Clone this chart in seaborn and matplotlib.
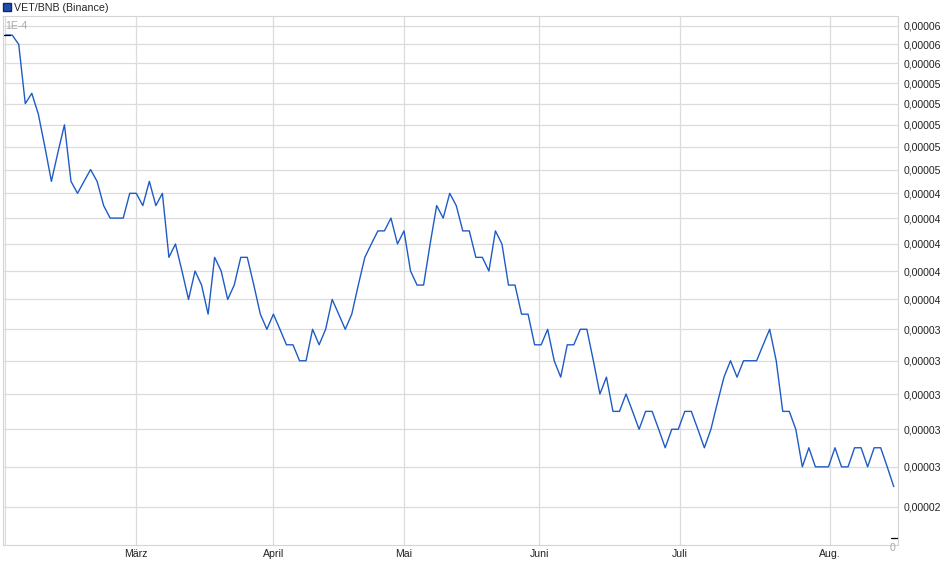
import math

import matplotlib
matplotlib.use("Agg")
import matplotlib.pyplot as plt
from matplotlib.patches import Patch
from matplotlib.ticker import FixedLocator, FuncFormatter, NullLocator
import numpy as np
import pandas as pd
import seaborn as sns

# VET/BNB closing prices, in units of 1e-6 BNB
price_micro = [
    63, 63, 62, 56, 57, 55, 52, 49, 51.5, 54,
    49, 48, 49, 50, 49, 47, 46, 46, 46, 48,
    48, 47, 49, 47, 48, 43, 44, 42, 40, 42,
    41, 39, 43, 42, 40, 41, 43, 43, 41, 39,
    38, 39, 38, 37, 37, 36, 36, 38, 37, 38,
    40, 39, 38, 39, 41, 43, 44, 45, 45, 46,
    44, 45, 42, 41, 41, 44, 47, 46, 48, 47,
    45, 45, 43, 43, 42, 45, 44, 41, 41, 39,
    39, 37, 37, 38, 36, 35, 37, 37, 38, 38,
    36, 34, 35, 33, 33, 34, 33, 32, 33, 33,
    32, 31, 32, 32, 33, 33, 32, 31, 32, 33.5,
    35, 36, 35, 36, 36, 36, 37, 38, 36, 33,
    33, 32, 30, 31, 30, 30, 30, 31, 30, 30,
    31, 31, 30, 31, 31, 30, 29,
]

# month labels and where they fall on the point index
month_labels = ["", "März", "April", "Mai", "Juni", "Juli", "Aug."]
month_pos = [-0.1, 20.0, 41.0, 61.0, 81.7, 103.2, 126.2]

# right-hand price grid (units of 1e-6)
grid_micro = list(range(28, 65, 2))

series_name = "VET/BNB (Binance)"
line_color = "#1f5bc6"
grid_color = "#dcdcdc"

df = pd.DataFrame({
    "idx": np.arange(len(price_micro)),
    "price": np.array(price_micro) * 1e-6,
})

sns.set_style("whitegrid")
plt.rcParams["font.family"] = ["Liberation Sans", "DejaVu Sans"]

fig = plt.figure(figsize=(9.4, 5.79), dpi=100)
ax = fig.add_axes([3 / 940, 34 / 579, 895 / 940, 529 / 579])

sns.lineplot(data=df, x="idx", y="price", ax=ax, color=line_color,
             linewidth=1.0, legend=False)

ax.set_yscale("log")
ax.set_ylim(26.23e-6, 65.1e-6)
ax.set_xlim(-0.41, 136.65)

ax.yaxis.tick_right()
ax.yaxis.set_major_locator(FixedLocator([v * 1e-6 for v in grid_micro]))
ax.yaxis.set_minor_locator(NullLocator())
ax.yaxis.set_major_formatter(FuncFormatter(
    lambda v, _: "0,%05d" % math.floor(v * 1e5 + 1e-6)))

ax.set_xticks(month_pos)
ax.set_xticklabels(month_labels)

ax.tick_params(axis="y", length=0, pad=4, labelsize=7.6, labelcolor="#222222")
ax.tick_params(axis="x", length=0, pad=3, labelsize=7.6, labelcolor="#222222")
ax.set_xlabel("")
ax.set_ylabel("")

ax.grid(True, color=grid_color, linewidth=0.9)
for s in ax.spines.values():
    s.set_color("#d4d4d4")
    s.set_linewidth(0.8)

# small markers at start price and bottom right, like the original
ax.plot([0, 0.008], [df["price"].iloc[0]] * 2, color="black", lw=0.9,
        transform=ax.get_yaxis_transform())
ax.plot([0.9925, 1.0], [0.0132, 0.0132], color="black", lw=0.9,
        transform=ax.transAxes)

fig.text(5 / 940, 1 - 26 / 579, "1E-4", va="center", ha="left",
         fontsize=7.6, color="#a8a8a8")
fig.text(892 / 940, 1 - 548 / 579, "0", va="center", ha="center",
         fontsize=7.6, color="#a8a8a8")

fig.legend(handles=[Patch(facecolor="#1f4fae", edgecolor="#0d2a66",
                          label=series_name)],
           loc="upper left", bbox_to_anchor=(0.0, 1.0), frameon=False,
           fontsize=7.7, handlelength=0.75, handleheight=0.75,
           handletextpad=0.35, borderpad=0.15, borderaxespad=0.1)

fig.savefig("out.png", dpi=100)
